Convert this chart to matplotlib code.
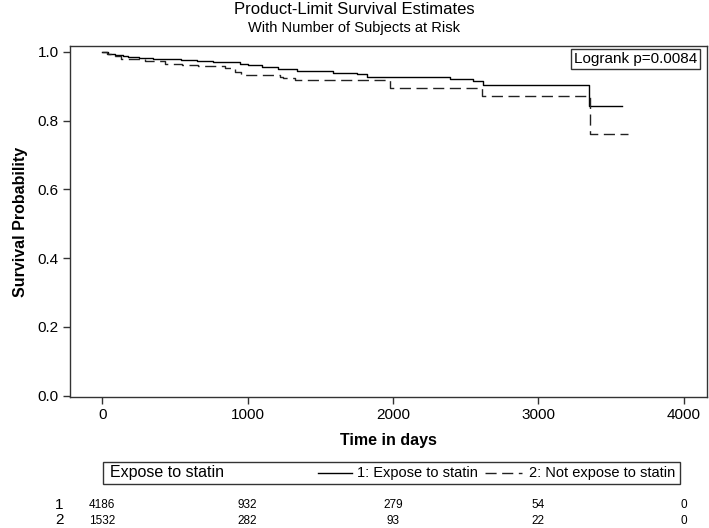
import matplotlib

matplotlib.use("Agg")
import matplotlib.pyplot as plt
from matplotlib.lines import Line2D
from matplotlib.patches import Rectangle
from matplotlib.transforms import blended_transform_factory

plt.rcParams["font.family"] = ["Liberation Sans", "DejaVu Sans"]

# Kaplan-Meier steps (time in days, survival after event)
t_statin = [0, 40, 90, 140, 177, 250, 350, 450, 544, 650, 760, 888, 950, 1002,
            1100, 1209, 1291, 1340, 1590, 1750, 1819, 2392, 2551, 2620, 3351, 3573]
s_statin = [1.0, 0.995, 0.992, 0.988, 0.985, 0.983, 0.980, 0.978, 0.976, 0.974,
            0.972, 0.970, 0.966, 0.961, 0.957, 0.951, 0.949, 0.944, 0.940, 0.937,
            0.927, 0.922, 0.915, 0.905, 0.844, 0.844]

t_nostatin = [0, 30, 60, 85, 131, 200, 292, 429, 550, 658, 842, 911, 956, 1220,
              1243, 1326, 1980, 2615, 3355, 3617]
s_nostatin = [1.0, 0.994, 0.990, 0.987, 0.980, 0.978, 0.973, 0.966, 0.962, 0.958,
              0.953, 0.941, 0.934, 0.928, 0.923, 0.917, 0.895, 0.873, 0.761, 0.761]

risk_times = [0, 1000, 2000, 3000, 4000]
risk_statin = [4186, 932, 279, 54, 0]
risk_nostatin = [1532, 282, 93, 22, 0]

W, H = 709, 528
fig = plt.figure(figsize=(W / 100, H / 100), dpi=100)
ax = fig.add_axes([70 / W, 1 - 397.3 / H, 636.7 / W, 351.6 / H])

ax.plot(t_statin, s_statin, drawstyle="steps-post", color="black", lw=1.0)
ax.plot(t_nostatin, s_nostatin, drawstyle="steps-post", color="#222222", lw=1.0,
        dashes=(8, 4))

ax.set_xlim(-222, 4158)
ax.set_ylim(-0.005, 1.018)
ax.set_xticks([0, 1000, 2000, 3000, 4000])
ax.set_yticks([0.0, 0.2, 0.4, 0.6, 0.8, 1.0])
ax.set_yticklabels([f"{v:.1f}" for v in ax.get_yticks()])
ax.tick_params(direction="out", length=5, width=1, labelsize=11, color="#333333", pad=3)
for sp in ax.spines.values():
    sp.set_color("#333333")
    sp.set_linewidth(1)

ax.set_ylabel("Survival Probability", fontsize=11.5, fontweight="bold", labelpad=7)
fig.text(388 / W, 1 - 441 / H, "Time in days", fontsize=11.5, fontweight="bold",
         ha="center", va="center")

ax.text(0.985, 0.982, "Logrank p=0.0084", transform=ax.transAxes, ha="right", va="top",
        fontsize=11, bbox=dict(boxstyle="square,pad=0.2", fc="white", ec="#333333", lw=1))

fig.text(0.5, 1 - 9 / H, "Product-Limit Survival Estimates", fontsize=12,
         ha="center", va="center")
fig.text(0.5, 1 - 28 / H, "With Number of Subjects at Risk", fontsize=10.5,
         ha="center", va="center")

# legend strip below the axis
fig.patches.append(Rectangle((103 / W, 1 - 484 / H), 577 / W, 22 / H, transform=fig.transFigure,
                             fill=False, ec="#333333", lw=1))
ly = 1 - 473 / H
fig.text(110 / W, ly, "Expose to statin", fontsize=11.5, va="center")
fig.lines.append(Line2D([318 / W, 352 / W], [ly, ly], transform=fig.transFigure,
                        color="black", lw=1))
fig.text(357 / W, ly, "1: Expose to statin", fontsize=10.5, va="center")
fig.lines.append(Line2D([485 / W, 522 / W], [ly, ly], transform=fig.transFigure,
                        color="#222222", lw=1, dashes=(8, 4)))
fig.text(675 / W, ly, "2: Not expose to statin", fontsize=10.5, va="center", ha="right")

# number at risk table, aligned with the time axis
tr = blended_transform_factory(ax.transData, fig.transFigure)
for row, (label, vals) in enumerate([("1", risk_statin), ("2", risk_nostatin)]):
    y = 1 - (505 + 15.5 * row) / H
    fig.text(59 / W, y, label, fontsize=11, ha="center", va="center")
    for t, n in zip(risk_times, vals):
        ax.text(t, y, str(n), transform=tr, fontsize=8.5, ha="center", va="center",
                clip_on=False)

fig.savefig("out.png", dpi=100)
